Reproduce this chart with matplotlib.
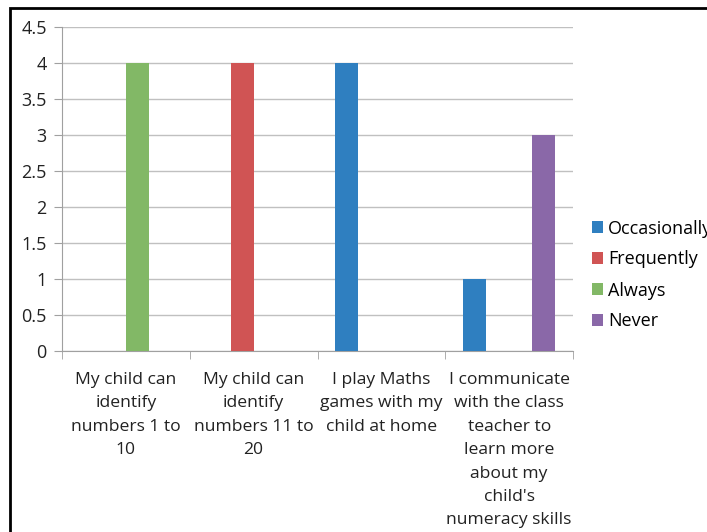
import matplotlib.pyplot as plt
from matplotlib.patches import Rectangle
import numpy as np

plt.rcParams['font.family'] = ['Open Sans', 'DejaVu Sans']

categories = ["My child can\nidentify\nnumbers 1 to\n10",
              "My child can\nidentify\nnumbers 11 to\n20",
              "I play Maths\ngames with my\nchild at home",
              "I communicate\nwith the class\nteacher to\nlearn more\nabout my\nchild's\nnumeracy skills"]
series = ["Occasionally", "Frequently", "Always", "Never"]
occasionally = [0, 0, 4, 1]
frequently = [0, 4, 0, 0]
always = [4, 0, 0, 0]
never = [0, 0, 0, 3]
colors = ["#2f7fc0", "#d05454", "#82b866", "#8a68a8"]

values = [occasionally, frequently, always, never]

fig = plt.figure(figsize=(7.07, 5.32), dpi=100)
ax = fig.add_axes([62/707, 1-351/532, 511/707, 324/532])

x = np.arange(len(categories))
w = 0.18
for i, (name, vals) in enumerate(zip(series, values)):
    ax.bar(x + (i - 1.5) * w, vals, w, color=colors[i], label=name, zorder=3)

ax.set_xlim(-0.5, 3.5)
ax.set_ylim(0, 4.5)
ax.set_yticks(np.arange(0, 4.51, 0.5))
ax.set_yticklabels(["0", "0.5", "1", "1.5", "2", "2.5", "3", "3.5", "4", "4.5"])
ax.yaxis.grid(True, color="#c0c0c0", linewidth=1, zorder=0)
ax.set_xticks(x)
ax.set_xticklabels(categories, fontsize=12.6, color="#222222", linespacing=1.62)
ax.set_xticks(np.arange(-0.5, 3.6, 1), minor=True)
ax.tick_params(axis="x", which="major", length=0, pad=15)
ax.tick_params(axis="x", which="minor", length=6, color="#a0a0a0")
ax.tick_params(axis="y", length=6, color="#a0a0a0", labelsize=13, labelcolor="#222222", pad=5)
for s in ["top", "right"]:
    ax.spines[s].set_visible(False)
for s in ["left", "bottom"]:
    ax.spines[s].set_color("#a0a0a0")

fig.legend(loc="center left", bbox_to_anchor=(592/707, 1 - 275/532), frameon=False,
           fontsize=13, handlelength=0.6, handleheight=0.6, handletextpad=0.3,
           labelspacing=0.72, borderaxespad=0, borderpad=0)

fig.patches.append(Rectangle((10/707, -0.1), 1.2, 1 - 8/532 + 0.1,
                             transform=fig.transFigure, fill=False,
                             edgecolor="black", linewidth=2))

fig.savefig("out.png", dpi=100)
